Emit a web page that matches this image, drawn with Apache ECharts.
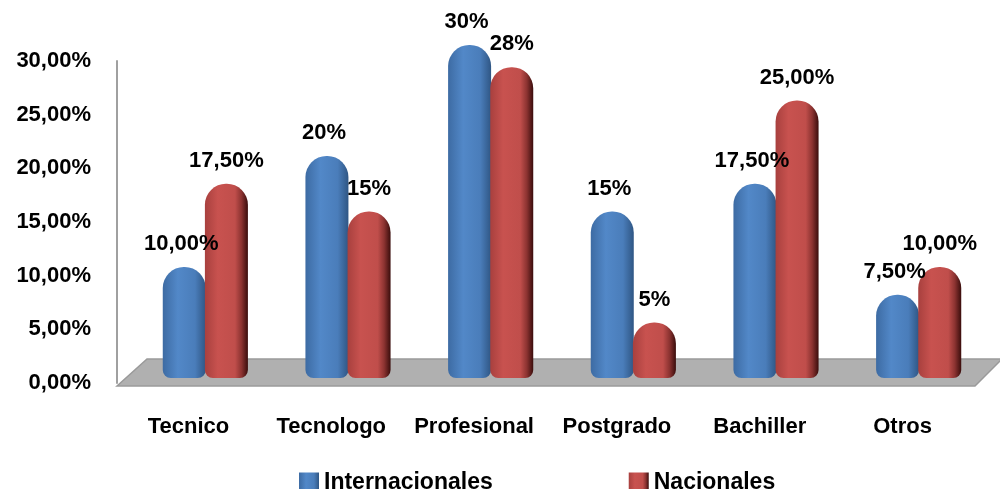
<!DOCTYPE html>
<html>
<head>
<meta charset="utf-8">
<script src="https://cdn.jsdelivr.net/npm/echarts@6/dist/echarts.min.js"></script>
<style>
  html, body { margin: 0; padding: 0; background: #fff; }
  #grafico { width: 1000px; height: 489px; }
</style>
</head>
<body>
<div id="grafico"></div>
<script>
// Dados
const categorias = ['Tecnico', 'Tecnologo', 'Profesional', 'Postgrado', 'Bachiller', 'Otros'];
const internacionales = [10, 20, 30, 15, 17.5, 7.5];
const nacionales = [17.5, 15, 28, 5, 25, 10];
const etiquetasInter = ['10,00%', '20%', '30%', '15%', '17,50%', '7,50%'];
const etiquetasNac = ['17,50%', '15%', '28%', '5%', '25,00%', '10,00%'];
const fonte = "'Liberation Sans', Arial, sans-serif";

var chartDom = document.getElementById('grafico');
var myChart = echarts.init(chartDom);

// gradientes pra dar o efeito de cilindro
var azul = new echarts.graphic.LinearGradient(0, 0, 1, 0, [
    { offset: 0, color: '#3d6ba3' },
    { offset: 0.35, color: '#5288c8' },
    { offset: 0.75, color: '#4a7dba' },
    { offset: 1, color: '#2f5684' }
]);
var vermelho = new echarts.graphic.LinearGradient(0, 0, 1, 0, [
    { offset: 0, color: '#a8403e' },
    { offset: 0.3, color: '#c8524f' },
    { offset: 0.7, color: '#c04e4b' },
    { offset: 0.85, color: '#8c3331' },
    { offset: 1, color: '#3a0d0c' }
]);

var option = {
    animation: false,
    textStyle: { fontFamily: fonte },
    // piso cinza
    graphic: [{
        type: 'polygon',
        z: 0,
        shape: { points: [[117, 386], [147, 359], [1002, 359], [975, 386]] },
        style: { fill: '#b0b0b0', stroke: '#9a9a9a', lineWidth: 1.5 }
    }],
    legend: {
        data: ['Internacionales', 'Nacionales'],
        left: 294,
        top: 466,
        itemWidth: 20,
        itemHeight: 20,
        itemGap: 136,
        icon: 'rect',
        textStyle: { fontSize: 23, fontWeight: 'bold', color: '#000', fontFamily: fonte }
    },
    grid: [
        // barras
        { left: 134, right: 10, top: 45, bottom: 111 },
        // eixos (rotulos)
        { left: 117, right: 26, top: 61, bottom: 106 }
    ],
    xAxis: [
        {
            gridIndex: 0,
            type: 'category',
            data: categorias,
            show: false
        },
        {
            gridIndex: 1,
            type: 'category',
            data: categorias,
            axisLine: { show: false },
            axisTick: { show: false },
            axisLabel: { interval: 0, margin: 33, fontSize: 22, fontWeight: 'bold', color: '#000', fontFamily: fonte }
        }
    ],
    yAxis: [
        {
            gridIndex: 0,
            type: 'value',
            min: 0,
            max: 30,
            show: false
        },
        {
            gridIndex: 1,
            type: 'value',
            min: 0,
            max: 30,
            interval: 5,
            splitLine: { show: false },
            axisTick: { show: false },
            axisLine: { show: true, lineStyle: { color: '#a0a0a0', width: 2 } },
            axisLabel: {
                margin: 26,
                fontSize: 22,
                fontWeight: 'bold',
                color: '#000',
                fontFamily: fonte,
                formatter: function (v) { return v.toFixed(2).replace('.', ',') + '%'; }
            }
        }
    ],
    series: [
        {
            name: 'Internacionales',
            type: 'bar',
            xAxisIndex: 0,
            yAxisIndex: 0,
            data: internacionales,
            barWidth: 43,
            barGap: '-2%',
            z: 3,
            itemStyle: { color: azul, borderRadius: [21, 21, 8, 8] },
            label: {
                show: true,
                position: 'top',
                distance: 12,
                offset: [-3, 0],
                fontSize: 22,
                fontWeight: 'bold',
                color: '#000',
                fontFamily: fonte,
                formatter: function (p) { return etiquetasInter[p.dataIndex]; }
            }
        },
        {
            name: 'Nacionales',
            type: 'bar',
            xAxisIndex: 0,
            yAxisIndex: 0,
            data: nacionales,
            barWidth: 43,
            z: 3,
            itemStyle: { color: vermelho, borderRadius: [21, 21, 8, 8] },
            label: {
                show: true,
                position: 'top',
                distance: 12,
                fontSize: 22,
                fontWeight: 'bold',
                color: '#000',
                fontFamily: fonte,
                formatter: function (p) { return etiquetasNac[p.dataIndex]; }
            }
        }
    ]
};

option && myChart.setOption(option);
</script>
</body>
</html>
